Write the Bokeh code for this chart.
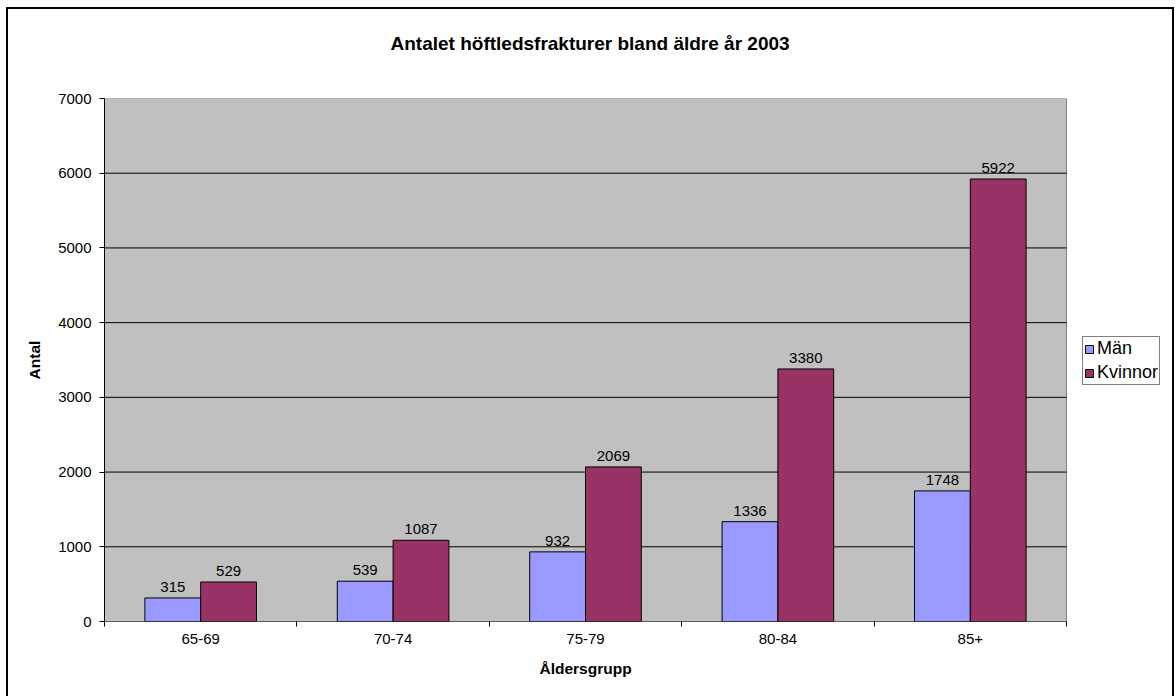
from bokeh.plotting import figure
from bokeh.models import (ColumnDataSource, FixedTicker, Legend, LegendItem,
                          Range1d, InlineStyleSheet, Title)
from bokeh.core.properties import value
from bokeh.embed import file_html
from bokeh.resources import INLINE

categories = ["65-69", "70-74", "75-79", "80-84", "85+"]
man = [315, 539, 932, 1336, 1748]
kvinnor = [529, 1087, 2069, 3380, 5922]
series_names = ["Män", "Kvinnor"]
y_ticks = [0, 1000, 2000, 3000, 4000, 5000, 6000, 7000]
title_text = "Antalet höftledsfrakturer bland äldre år 2003"
x_label = "Åldersgrupp"
y_label = "Antal"

FONT = "Liberation Sans"
BAR_W = 0.29
N = len(categories)
Y_MAX = y_ticks[-1]
# frame spans 104..1175 px; plot area (categories) spans 104..1066 px
X_END = N * 1071 / 962

idx = list(range(N))
src = ColumnDataSource(dict(
    xm=[i + 0.5 - BAR_W / 2 for i in idx],
    xk=[i + 0.5 + BAR_W / 2 for i in idx],
    man=man, kv=kvinnor,
    man_s=[str(v) for v in man], kv_s=[str(v) for v in kvinnor],
))

p = figure(width=1175, height=696, output_backend="svg", toolbar_location=None,
           x_range=Range1d(0, X_END), y_range=Range1d(0, Y_MAX),
           min_border_left=104, min_border_right=0, min_border_top=98,
           min_border_bottom=75, title=None)
p.background_fill_color = "white"
p.border_fill_color = "white"
p.outline_line_color = None

# plot area
p.quad(left=[0], right=[N], bottom=[0], top=[Y_MAX], fill_color="#C0C0C0",
       line_color="#808080", line_width=1)
inner = y_ticks[1:-1]
p.segment(x0=[0] * len(inner), x1=[N] * len(inner), y0=inner, y1=inner,
          line_color="black", line_width=1)
p.segment(x0=[0], x1=[N], y0=[0], y1=[0], line_color="black", line_width=1)

r1 = p.vbar(x="xm", top="man", width=BAR_W, source=src, fill_color="#9999FF",
            line_color="black", line_width=1)
r2 = p.vbar(x="xk", top="kv", width=BAR_W, source=src, fill_color="#993366",
            line_color="black", line_width=1)

for xcol, ycol, tcol in (("xm", "man", "man_s"), ("xk", "kv", "kv_s")):
    p.text(x=xcol, y=ycol, text=tcol, source=src, text_font=value(FONT),
           text_font_size="15px", text_align="center", text_baseline="bottom",
           y_offset=-6, text_color="black")

# titles (spacer first, nearest the frame)
p.add_layout(Title(text=" ", text_font_size="1px", standoff=42), "above")
p.add_layout(Title(text=title_text, align="left", offset=286,
                   text_font=FONT, text_font_size="19px",
                   text_font_style="bold", text_color="black", standoff=0),
             "above")

# axes
xa = p.xaxis[0]
xa.ticker = FixedTicker(ticks=[i + 0.5 for i in idx],
                        minor_ticks=list(range(N + 1)))
xa.major_label_overrides = {i + 0.5: c for i, c in zip(idx, categories)}
xa.major_tick_line_color = None
xa.minor_tick_out = 5
xa.minor_tick_in = 0
xa.minor_tick_line_color = "black"
xa.axis_line_color = None
xa.major_label_text_font = FONT
xa.major_label_text_font_size = "15px"
xa.major_label_text_color = "black"
xa.major_label_standoff = 6

p.add_layout(Title(text=x_label, align="left", offset=435,
                   text_font=FONT, text_font_size="15.5px",
                   text_font_style="bold", text_color="black", standoff=27,
                   vertical_align="top"),
             "below")

ya = p.yaxis[0]
ya.ticker = FixedTicker(ticks=y_ticks)
ya.major_tick_out = 5
ya.major_tick_in = 0
ya.minor_tick_line_color = None
ya.axis_line_color = "black"
ya.major_label_text_font = FONT
ya.major_label_text_font_size = "15px"
ya.major_label_text_color = "black"
ya.major_label_standoff = 8
ya.axis_label = y_label
ya.axis_label_text_font = FONT
ya.axis_label_text_font_size = "15.5px"
ya.axis_label_text_font_style = "bold"
ya.axis_label_text_color = "black"
ya.axis_label_standoff = 12

p.xgrid.grid_line_color = None
p.ygrid.grid_line_color = None

legend = Legend(items=[LegendItem(label=series_names[0], renderers=[r1]),
                       LegendItem(label=series_names[1], renderers=[r2])],
                location=(978, 236))
legend.border_line_color = "black"
legend.border_line_width = 1
legend.background_fill_color = "white"
legend.background_fill_alpha = 1
legend.label_text_font = FONT
legend.label_text_font_size = "18px"
legend.label_text_color = "black"
legend.glyph_width = 10
legend.glyph_height = 10
legend.label_standoff = 3
legend.padding = 1
legend.spacing = 3
legend.margin = 0
legend.label_height = 19
p.add_layout(legend, "center")

p.stylesheets = [InlineStyleSheet(css="""
:host::after {
  content: '';
  position: absolute;
  left: 6px; top: 7px;
  width: 1164px; height: 740px;
  border: 2px solid black;
  pointer-events: none;
  z-index: 100;
}
""")]

open("out.html", "w").write(file_html(p, INLINE))
